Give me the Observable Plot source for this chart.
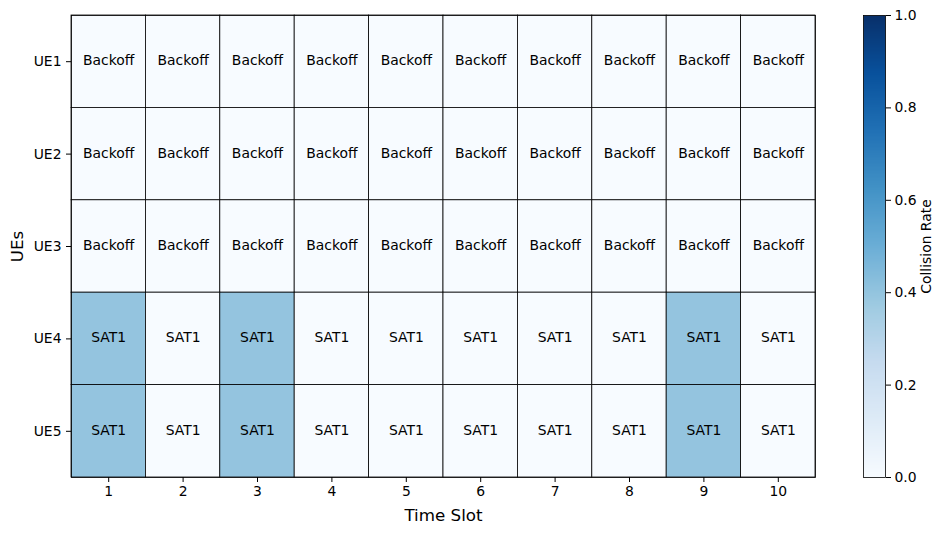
<!DOCTYPE html>
<html>
<head>
<meta charset="utf-8">
<script src="https://cdn.jsdelivr.net/npm/d3@7"></script>
<script src="https://cdn.jsdelivr.net/npm/@observablehq/plot@0.6"></script>
<style>
  html, body { margin: 0; padding: 0; background: #fff; }
  #wrap { position: relative; width: 945px; height: 534px; font-family: "DejaVu Sans", sans-serif; }
  #wrap > div, #wrap > svg { position: absolute; left: 0; top: 0; }
</style>
</head>
<body>
<div id="wrap"></div>
<script>
// ---- data ----
const timeSlots = ["1","2","3","4","5","6","7","8","9","10"];
const ues = ["UE1","UE2","UE3","UE4","UE5"];
const actionsUE1 = ["Backoff","Backoff","Backoff","Backoff","Backoff","Backoff","Backoff","Backoff","Backoff","Backoff"];
const actionsUE2 = ["Backoff","Backoff","Backoff","Backoff","Backoff","Backoff","Backoff","Backoff","Backoff","Backoff"];
const actionsUE3 = ["Backoff","Backoff","Backoff","Backoff","Backoff","Backoff","Backoff","Backoff","Backoff","Backoff"];
const actionsUE4 = ["SAT1","SAT1","SAT1","SAT1","SAT1","SAT1","SAT1","SAT1","SAT1","SAT1"];
const actionsUE5 = ["SAT1","SAT1","SAT1","SAT1","SAT1","SAT1","SAT1","SAT1","SAT1","SAT1"];
const rateUE1 = [0,0,0,0,0,0,0,0,0,0];
const rateUE2 = [0,0,0,0,0,0,0,0,0,0];
const rateUE3 = [0,0,0,0,0,0,0,0,0,0];
const rateUE4 = [0.4,0,0.4,0,0,0,0,0,0.4,0];
const rateUE5 = [0.4,0,0.4,0,0,0,0,0,0.4,0];
const colorbarTicks = [0,0.2,0.4,0.6,0.8,1.0];
// matplotlib "Blues" colormap anchors
const bluesAnchors = ["#f7fbff","#deebf7","#c6dbef","#9ecae1","#6baed6","#4292c6","#2171b5","#08519c","#08306b"];

const actions = [actionsUE1, actionsUE2, actionsUE3, actionsUE4, actionsUE5];
const rates = [rateUE1, rateUE2, rateUE3, rateUE4, rateUE5];
const cells = [];
ues.forEach((ue, i) => timeSlots.forEach((t, j) => {
  cells.push({ue, slot: t, action: actions[i][j], rate: rates[i][j]});
}));

const colorScale = {
  type: "linear",
  domain: bluesAnchors.map((_, i) => i / (bluesAnchors.length - 1)),
  range: bluesAnchors,
  interpolate: "rgb"
};

const FS = 13.9;

const main = Plot.plot({
  width: 945,
  height: 534,
  marginLeft: 71,
  marginRight: 130,
  marginTop: 15,
  marginBottom: 57,
  style: {fontFamily: "DejaVu Sans, sans-serif", fontSize: FS + "px", color: "#000", background: "transparent"},
  x: {type: "band", domain: timeSlots, padding: 0, round: false},
  y: {type: "band", domain: ues, padding: 0, round: false},
  color: colorScale,
  marks: [
    Plot.cell(cells, {x: "slot", y: "ue", fill: "rate", stroke: "#000", strokeWidth: 0.8, inset: 0}),
    Plot.text(cells, {x: "slot", y: "ue", text: "action", fill: "#000", fontSize: FS, dy: -1}),
    Plot.frame({stroke: "#000", strokeWidth: 0.8}),
    Plot.axisX({tickSize: 5, tickPadding: 4, label: "Time Slot", labelAnchor: "center", labelArrow: "none", labelOffset: 43, fontSize: FS}),
    Plot.axisY({tickSize: 5, tickPadding: 5, label: "UEs", labelAnchor: "center", labelArrow: "none", labelOffset: 60, fontSize: FS})
  ]
});
main.querySelectorAll("[aria-label='x-axis label'] text, [aria-label='y-axis label'] text").forEach(t => t.style.fontSize = "16.7px");
document.getElementById("wrap").appendChild(main);

const bar = Plot.plot({
  width: 945,
  height: 534,
  marginLeft: 863,
  marginRight: 60,
  marginTop: 15,
  marginBottom: 57,
  style: {fontFamily: "DejaVu Sans, sans-serif", fontSize: FS + "px", color: "#000", background: "transparent"},
  x: {domain: [0, 1], axis: null},
  y: {domain: [0, 1]},
  color: colorScale,
  marks: [
    Plot.raster({x1: 0, x2: 1, y1: 0, y2: 1, width: 4, height: 400, fill: (x, y) => y, imageRendering: "auto"}),
    Plot.frame({stroke: "#000", strokeWidth: 0.8}),
    Plot.axisY({anchor: "right", ticks: colorbarTicks, tickFormat: d3.format(".1f"), tickSize: 5, tickPadding: 4, label: "Collision Rate", labelAnchor: "center", labelArrow: "none", labelOffset: 45, fontSize: FS})
  ]
});
bar.style.pointerEvents = "none";
document.getElementById("wrap").appendChild(bar);
</script>
</body>
</html>
